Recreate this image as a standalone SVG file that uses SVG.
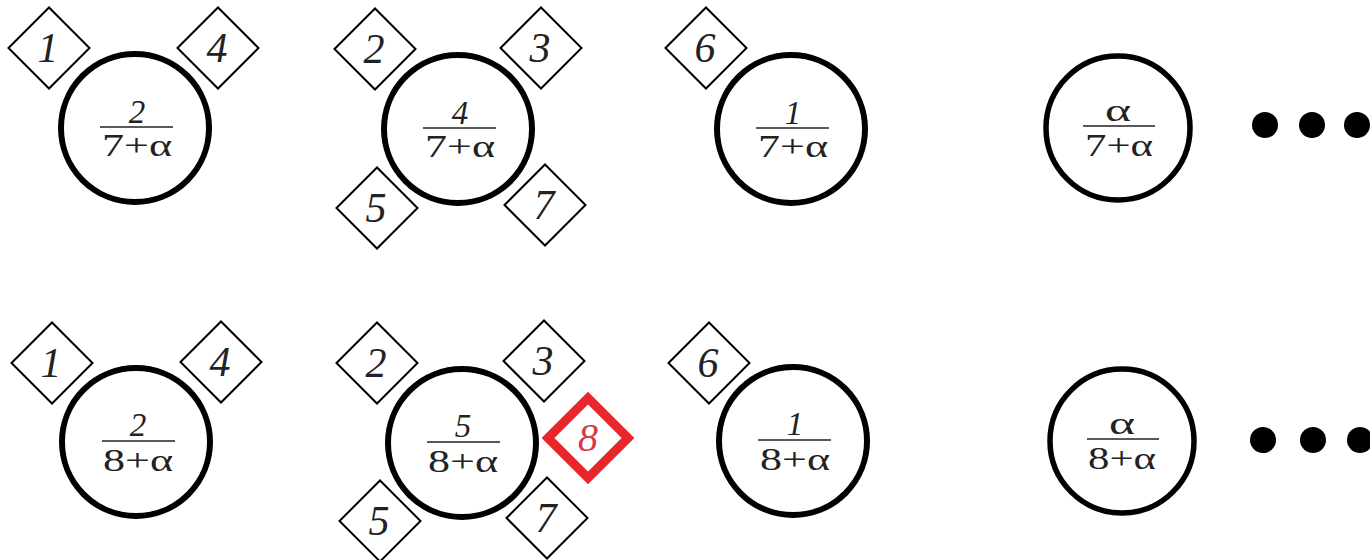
<svg xmlns="http://www.w3.org/2000/svg" width="1370" height="560" viewBox="0 0 1370 560" font-family="Liberation Serif, Times New Roman, serif">
<style>
.c{fill:#fff;stroke:#000;stroke-width:6}
.d{fill:#fff;stroke:#000;stroke-width:2}
.dr{fill:#fff;stroke:#e8262b;stroke-width:9}
.dl{font-style:italic;font-size:42px;text-anchor:middle;fill:#222}
.fr{font-size:31px;text-anchor:middle;fill:#222}
.it{font-style:italic}
.bar{stroke:#222;stroke-width:1.6}
.dot{fill:#000}
</style>
<defs>
<path id="dm" d="M-40.5,0 L0,-40.5 L40.5,0 L0,40.5 Z"/>
</defs>
<rect width="1370" height="560" fill="#fff"/>
<g id="connectors"></g>

<!-- top row -->
<g id="t-c1"><circle class="c" cx="135" cy="128" r="74"/>
<text class="fr it" x="137" y="123" style="font-size:33px">2</text><line class="bar" x1="100" y1="127" x2="173" y2="127"/>
<text class="fr" x="137" y="156" textLength="70" lengthAdjust="spacingAndGlyphs">7+α</text></g>
<g id="t-d1"><use href="#dm" class="d" x="49" y="48"/><text class="dl" x="48" y="62">1</text></g>
<g id="t-d4"><use href="#dm" class="d" x="218" y="48"/><text class="dl" x="217" y="62">4</text></g>

<g id="t-c2"><circle class="c" cx="458" cy="129" r="74"/>
<text class="fr it" x="460" y="124" style="font-size:33px">4</text><line class="bar" x1="423" y1="128" x2="496" y2="128"/>
<text class="fr" x="460" y="157" textLength="70" lengthAdjust="spacingAndGlyphs">7+α</text></g>
<g id="t-d2"><use href="#dm" class="d" x="375" y="49"/><text class="dl" x="374" y="63">2</text></g>
<g id="t-d3"><use href="#dm" class="d" x="541" y="48"/><text class="dl" x="540" y="62">3</text></g>
<g id="t-d5"><use href="#dm" class="d" x="377" y="208"/><text class="dl" x="376" y="222">5</text></g>
<g id="t-d7"><use href="#dm" class="d" x="545" y="205"/><text class="dl" x="544" y="219">7</text></g>

<g id="t-c3"><circle class="c" cx="791" cy="129" r="74"/>
<text class="fr it" x="793" y="124" style="font-size:33px">1</text><line class="bar" x1="756" y1="128" x2="829" y2="128"/>
<text class="fr" x="793" y="157" textLength="70" lengthAdjust="spacingAndGlyphs">7+α</text></g>
<g id="t-d6"><use href="#dm" class="d" x="706" y="48"/><text class="dl" x="705" y="62">6</text></g>

<g id="t-c4"><circle class="c" cx="1118" cy="128" r="72" style="stroke-width:5.5"/>
<text class="fr" x="1118" y="121" textLength="26" lengthAdjust="spacingAndGlyphs">α</text><line class="bar" x1="1083" y1="126" x2="1155" y2="126"/>
<text class="fr" x="1119" y="156" textLength="68" lengthAdjust="spacingAndGlyphs">7+α</text></g>
<g id="t-dots"><circle class="dot" cx="1265" cy="125" r="13"/><circle class="dot" cx="1312" cy="125" r="13"/><circle class="dot" cx="1357" cy="125" r="13"/></g>

<!-- bottom row -->
<g id="b-c1"><circle class="c" cx="136" cy="442" r="74"/>
<text class="fr it" x="138" y="436" style="font-size:33px">2</text><line class="bar" x1="102" y1="441" x2="175" y2="441"/>
<text class="fr" x="138" y="471" textLength="70" lengthAdjust="spacingAndGlyphs">8+α</text></g>
<g id="b-d1"><use href="#dm" class="d" x="52" y="363"/><text class="dl" x="51" y="377">1</text></g>
<g id="b-d4"><use href="#dm" class="d" x="221" y="362"/><text class="dl" x="220" y="376">4</text></g>

<g id="b-c2"><circle class="c" cx="462" cy="443" r="74"/>
<text class="fr it" x="463" y="437" style="font-size:33px">5</text><line class="bar" x1="427" y1="442" x2="500" y2="442"/>
<text class="fr" x="463" y="472" textLength="70" lengthAdjust="spacingAndGlyphs">8+α</text></g>
<g id="b-d2"><use href="#dm" class="d" x="377" y="363"/><text class="dl" x="376" y="377">2</text></g>
<g id="b-d3"><use href="#dm" class="d" x="544" y="361"/><text class="dl" x="543" y="375">3</text></g>
<g id="b-d5"><use href="#dm" class="d" x="380" y="521"/><text class="dl" x="379" y="535">5</text></g>
<g id="b-d7"><use href="#dm" class="d" x="547" y="518"/><text class="dl" x="546" y="532">7</text></g>
<g id="b-d8"><path class="dr" d="M548,438 L588,398 L628,438 L588,478 Z"/><text class="dl" x="588" y="451" style="fill:#d63a45;font-size:40px">8</text></g>

<g id="b-c3"><circle class="c" cx="793" cy="441" r="74"/>
<text class="fr it" x="795" y="435" style="font-size:33px">1</text><line class="bar" x1="758" y1="440" x2="831" y2="440"/>
<text class="fr" x="795" y="470" textLength="70" lengthAdjust="spacingAndGlyphs">8+α</text></g>
<g id="b-d6"><use href="#dm" class="d" x="709" y="363"/><text class="dl" x="708" y="377">6</text></g>

<g id="b-c4"><circle class="c" cx="1122" cy="441" r="72" style="stroke-width:5.5"/>
<text class="fr" x="1122" y="434" textLength="26" lengthAdjust="spacingAndGlyphs">α</text><line class="bar" x1="1087" y1="439" x2="1159" y2="439"/>
<text class="fr" x="1122" y="469" textLength="68" lengthAdjust="spacingAndGlyphs">8+α</text></g>
<g id="b-dots"><circle class="dot" cx="1263" cy="440" r="13"/><circle class="dot" cx="1313" cy="440" r="13"/><circle class="dot" cx="1360" cy="440" r="13"/></g>
</svg>
